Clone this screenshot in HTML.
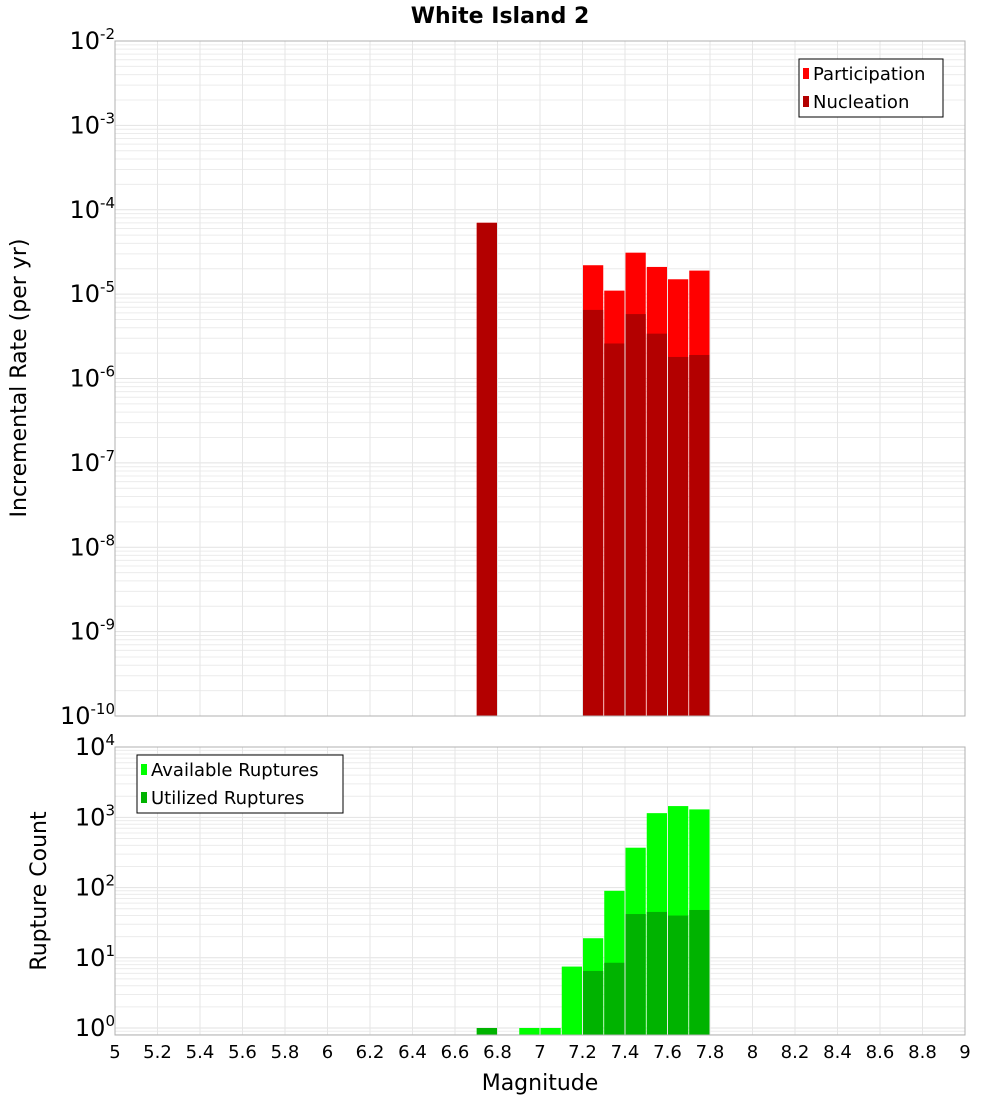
<!DOCTYPE html>
<html><head><meta charset="utf-8"><style>
body{margin:0;background:#fff;font-family:"DejaVu Sans","Liberation Sans",sans-serif}
svg{display:block}
</style></head><body>
<svg id="c" width="1000" height="1100" xmlns="http://www.w3.org/2000/svg" font-family="DejaVu Sans, Liberation Sans, sans-serif"></svg>
<script>
const binCenters=[6.75,7.25,7.35,7.45,7.55,7.65,7.75];
const participation=[7e-5,2.2e-5,1.1e-5,3.1e-5,2.1e-5,1.5e-5,1.9e-5];
const nucleation=[7e-5,6.5e-6,2.6e-6,5.8e-6,3.4e-6,1.8e-6,1.9e-6];
const countCenters=[6.75,6.95,7.05,7.15,7.25,7.35,7.45,7.55,7.65,7.75];
const available=[1,1,1,7.5,19,90,370,1150,1450,1300];
const utilized=[1,0,0,0,6.5,8.5,42,45,40,48];
const xTicks=[5,5.2,5.4,5.6,5.8,6,6.2,6.4,6.6,6.8,7,7.2,7.4,7.6,7.8,8,8.2,8.4,8.6,8.8,9];
const topExps=[-2,-3,-4,-5,-6,-7,-8,-9,-10];
const botExps=[4,3,2,1,0];

const svg=document.getElementById('c');
const NS='http://www.w3.org/2000/svg';
function el(t,a,p){const e=document.createElementNS(NS,t);for(const k in a)e.setAttribute(k,a[k]);(p||svg).appendChild(e);return e;}
const X0=115,X1=965;
const xS=v=>X0+(v-5)/4*(X1-X0);
const T0=41,T1=716;
const yT=v=>T0+(-2-Math.log10(v))/8*(T1-T0);
const B0=747,B1=1035,DEC=70.2;
const yB=v=>1028-Math.log10(v)*DEC;
const BW=(X1-X0)/40;

function grid(y0,y1,yf,lo,hi){
  const g=el('g',{});
  
  
  for(let e=lo;e<hi;e++)for(let m=1;m<10;m++){const y=yf(m*Math.pow(10,e));if(y>=y0&&y<=y1)el('line',{x1:X0,x2:X1,y1:y,y2:y,stroke:m==1?'#e2e2e2':'#ececec','stroke-width':1},g);}
  xTicks.forEach(t=>{const x=xS(t);el('line',{x1:x,x2:x,y1:y0,y2:y1,stroke:'#e6e6e6'},g);});
}
grid(T0,T1,yT,-10,-2);
grid(B0,B1,yB,-1,4);

binCenters.forEach((c,i)=>{
  const x=xS(c)-BW/2+0.5,w=BW-1;
  const yp=yT(participation[i]);
  const r=el('rect',{x:x,y:yp,width:w,height:T1-yp,fill:'#ff0000'});
  
  
  const yn=yT(nucleation[i]);
  const r2=el('rect',{x:x,y:yn,width:w,height:T1-yn,fill:'#b30000'});
  
  
});
countCenters.forEach((c,i)=>{
  const x=xS(c)-BW/2+0.5,w=BW-1;
  if(available[i]>0){const y=yB(available[i]);
  const r=el('rect',{x:x,y:y,width:w,height:B1-y,fill:'#00ff00'});
  
  }
  if(utilized[i]>0){const y=yB(utilized[i]);
  const r=el('rect',{x:x,y:y,width:w,height:B1-y,fill:'#00b300'});
  
  }
});
el('rect',{x:X0,y:T0,width:X1-X0,height:T1-T0,fill:'none',stroke:'#b0b0b0'});
el('rect',{x:X0,y:B0,width:X1-X0,height:B1-B0,fill:'none',stroke:'#b0b0b0'});

function txt(s,a,name){const t=el('text',a);t.textContent=s;return t;}
function pow(x,y,e,name,fs){const t=el('text',{x:x,y:y,'text-anchor':'end','font-size':fs,fill:'#000'});
  
  
  const a=el('tspan',{},t);a.textContent='10';const b=el('tspan',{dy:-10,'font-size':15},t);b.textContent=String(e);}
topExps.forEach(e=>{const y=yT(Math.pow(10,e));pow(115,y+8,e,'y-tick-label',24);});
botExps.forEach(e=>{const y=yB(Math.pow(10,e));pow(115,y+8,e,'y2-tick-label',24);});
xTicks.forEach(t=>{txt(String(+t.toFixed(1)),{x:xS(t),y:1058,'text-anchor':'middle','font-size':18},'x-tick-label');});
txt('White Island 2',{x:500,y:23,'text-anchor':'middle','font-size':22,'font-weight':'bold'},'chart-title');
txt('Magnitude',{x:540,y:1090,'text-anchor':'middle','font-size':22},'x-axis-title');
txt('Incremental Rate (per yr)',{x:0,y:0,'text-anchor':'middle','font-size':22,transform:'translate(26,378) rotate(-90)'},'y-axis-title');
txt('Rupture Count',{x:0,y:0,'text-anchor':'middle','font-size':22,transform:'translate(46,891) rotate(-90)'},'y2-axis-title');

function legend(x,y,w,items,name){const g=el('g',{});
  el('rect',{x:x,y:y,width:w,height:items.length*28+2,fill:'#fff',stroke:'#000'},g);
  items.forEach((it,i)=>{el('rect',{x:x+4,y:y+9+i*28,width:6,height:11,fill:it[1]},g);
    const t=el('text',{x:x+14,y:y+21+i*28,'font-size':18},g);t.textContent=it[0];});}
legend(799,59,144,[['Participation','#ff0000'],['Nucleation','#b30000']],'legend-top');
legend(137,755,206,[['Available Ruptures','#00ff00'],['Utilized Ruptures','#00b300']],'legend-bottom');
</script>
</body></html>
